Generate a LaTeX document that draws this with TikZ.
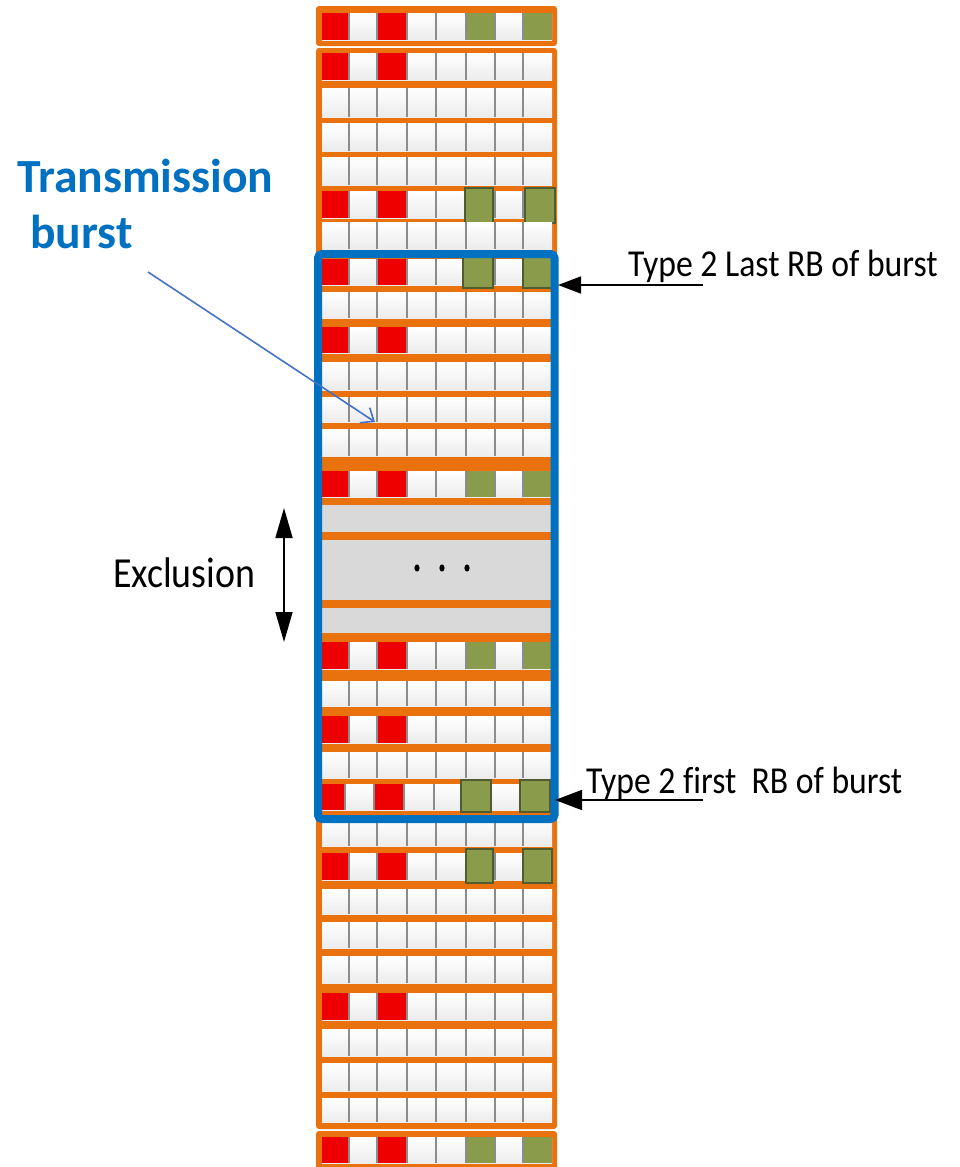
\documentclass[tikz,border=0pt]{standalone}
\usepackage{fontspec}
\usepackage{graphicx}
\setmainfont{Carlito}[Ligatures=NoCommon]
\usetikzlibrary{arrows.meta}
\definecolor{rborange}{HTML}{E9720F}
\definecolor{rbred}{HTML}{EE0000}
\definecolor{rbgreen}{HTML}{8A9C4C}
\definecolor{rbgreenedge}{HTML}{505C30}
\definecolor{rbblue}{HTML}{0070C0}
\definecolor{rbarrowblue}{HTML}{4472C4}
\definecolor{rbgray}{HTML}{D9D9D9}
\definecolor{rbsep}{HTML}{8C8C8C}
\definecolor{rbcellbot}{HTML}{ECECEC}
\tikzset{
  frame/.style={fill=rborange, rounded corners=3pt},
  cellrow/.style={top color=white, bottom color=rbcellbot},
  sepline/.style={draw=rbsep, line width=1.4pt},
  redcell/.style={fill=rbred},
  greencell/.style={fill=rbgreen},
  greenbox/.style={fill=rbgreen, draw=rbgreenedge, line width=1.4pt},
  grayrow/.style={fill=rbgray},
  burstbox/.style={draw=rbblue, line width=8pt, rounded corners=4pt},
  blackarrow/.style={draw=black, line width=1.6pt},
  bluearrow/.style={draw=rbarrowblue, line width=1.6pt, -{Straight Barb[length=11pt,width=18pt]}},
  lbl/.style={inner sep=0pt, font=\fontsize{33.7}{40}\selectfont},
  excllbl/.style={inner sep=0pt, font=\fontsize{37.9}{45}\selectfont},
  titlelbl/.style={inner sep=0pt, text=rbblue, font=\bfseries\fontsize{47.6}{56}\selectfont},
}
\newcommand\rbstretch[1]{\scalebox{1}[1.13]{#1}}
\newcommand\rbrow[2]{%
  \fill[cellrow] (322,#1) rectangle (552,#2);
  \foreach \cx in {349,377,407,436,466,495,523} {\draw[sepline] (\cx,#1) -- (\cx,#2);}
}
\newcommand\rbreds[2]{%
  \fill[redcell] (322,#1) rectangle (348.3,#2);
  \fill[redcell] (377.7,#1) rectangle (406.3,#2);
}
\newcommand\rbgreens[2]{%
  \fill[greencell] (466.7,#1) rectangle (494.3,#2);
  \fill[greencell] (523.7,#1) rectangle (552,#2);
}
\newcommand\rbgray[2]{\fill[grayrow] (322,#1) rectangle (552,#2);}
\begin{document}
\begin{tikzpicture}[x=1pt,y=-1pt]
\useasboundingbox (0,0) rectangle (959,1167);
% orange frames
\fill[frame] (316,6) rectangle (557,46);
\fill[frame] (316,48) rectangle (557,1129);
\fill[frame] (316,1131) rectangle (557,1178);
% block 1
\rbrow{13}{40}\rbreds{13}{40}\rbgreens{13}{40}
% block 2
\rbrow{53}{80}\rbreds{53}{80}
\rbrow{88}{117}
\rbrow{123}{151}
\rbrow{157}{185}
\rbrow{191}{218}\rbreds{191}{218}
\filldraw[greenbox] (465,188) rectangle (493,223);
\filldraw[greenbox] (525,188) rectangle (555,223);
\rbrow{222}{249}
\rbrow{259}{285}\rbreds{259}{285}
\filldraw[greenbox] (463,256) rectangle (493,288);
\filldraw[greenbox] (523,256) rectangle (552,288);
\rbrow{292}{318}
\rbrow{327}{353}\rbreds{327}{353}
\rbrow{362}{390}
\rbrow{397}{422}
\rbrow{429}{456}
\rbrow{471}{497}\rbreds{471}{497}\rbgreens{471}{497}
\rbgray{505}{532}
\rbgray{540}{600}
\rbgray{608}{633}
\rbrow{642}{669}\rbreds{642}{669}\rbgreens{642}{669}
\rbrow{681}{706}
\rbrow{716}{743}\rbreds{716}{743}
\rbrow{752}{778}
% shifted row
\fill[cellrow] (322,784) rectangle (552,810);
\foreach \cx in {345,374,404,434,461,491,520} {\draw[sepline] (\cx,784) -- (\cx,810);}
\fill[redcell] (322,784) rectangle (344,810);
\fill[redcell] (374.7,784) rectangle (403.3,810);
\filldraw[greenbox] (461,780) rectangle (491,812);
\filldraw[greenbox] (520,780) rectangle (550,812);
\rbrow{818}{846}
\rbrow{853}{880}\rbreds{853}{880}
\filldraw[greenbox] (466,849) rectangle (493,883);
\filldraw[greenbox] (523,849) rectangle (552,883);
\rbrow{889}{914}
\rbrow{922}{948}
\rbrow{956}{983}
\rbrow{993}{1020}\rbreds{993}{1020}
\rbrow{1029}{1056}
\rbrow{1063}{1091}
\rbrow{1098}{1122}
% block 3
\rbrow{1137}{1163}\rbreds{1137}{1163}\rbgreens{1137}{1163}
% dots
\fill (417,568) ellipse [x radius=2.6pt, y radius=3.6pt];
\fill (442,568) ellipse [x radius=2.6pt, y radius=3.6pt];
\fill (467,568) ellipse [x radius=2.6pt, y radius=3.6pt];
% burst box
\draw[burstbox] (318,254) rectangle (554.5,819);
% labels
\node[titlelbl, anchor=base west] (title1) at (17,192) {Transmission};
\node[titlelbl, anchor=base west] (title2) at (30,248) {burst};
\node[excllbl, anchor=base west] (excl) at (113,587) {\rbstretch{Exclusion}};
\node[lbl, anchor=base west] (lastlbl) at (628,276) {\rbstretch{Type 2 Last RB of burst}};
\node[lbl, anchor=base west] (firstlbl) at (586,793) {\rbstretch{Type 2 first\ \ RB of burst}};
% connectors
\coordinate (bluefrom) at (148,272);
\coordinate (blueto) at (375,422);
\draw[bluearrow] (bluefrom) -- (blueto);
\coordinate (exTop) at (284,508);
\coordinate (exBot) at (284,642);
\draw[blackarrow, {Triangle[length=30pt,width=17pt]}-{Triangle[length=30pt,width=17pt]}] (exTop) -- (exBot);
\coordinate (lastfrom) at (703,285);
\coordinate (lastto) at (558,285);
\draw[blackarrow, -{Triangle[length=23pt,width=17pt]}] (lastfrom) -- (lastto);
\coordinate (firstfrom) at (703,800);
\coordinate (firstto) at (555,800);
\draw[blackarrow, -{Triangle[length=27pt,width=20pt]}] (firstfrom) -- (firstto);
\end{tikzpicture}
\end{document}
